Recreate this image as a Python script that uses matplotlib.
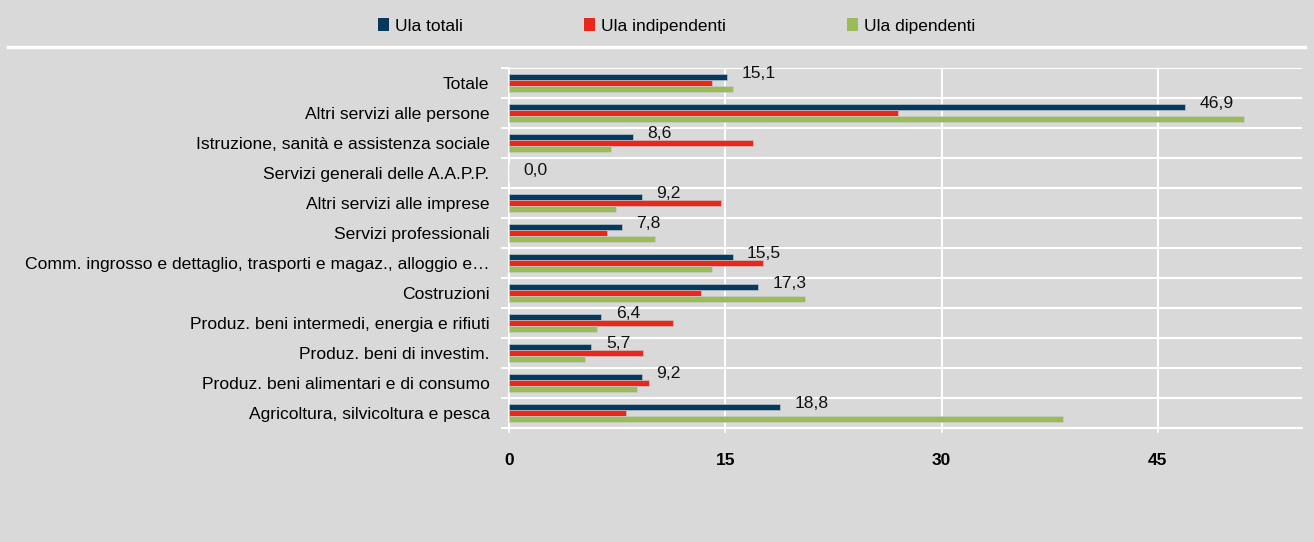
import matplotlib
matplotlib.use('Agg')
import matplotlib.pyplot as plt
import numpy as np
from matplotlib.patches import Patch
from matplotlib.lines import Line2D

plt.rcParams['font.family'] = ['Liberation Sans', 'DejaVu Sans']

categories = [
    'Totale',
    'Altri servizi alle persone',
    'Istruzione, sanità e assistenza sociale',
    'Servizi generali delle A.A.P.P.',
    'Altri servizi alle imprese',
    'Servizi professionali',
    'Comm. ingrosso e dettaglio, trasporti e magaz., alloggio e…',
    'Costruzioni',
    'Produz. beni intermedi, energia e rifiuti',
    'Produz. beni di investim.',
    'Produz. beni alimentari e di consumo',
    'Agricoltura, silvicoltura e pesca',
]
ula_totali = [15.1, 46.9, 8.6, 0.0, 9.2, 7.8, 15.5, 17.3, 6.4, 5.7, 9.2, 18.8]
ula_indipendenti = [14.1, 27.0, 16.9, 0.0, 14.7, 6.8, 17.6, 13.3, 11.4, 9.3, 9.7, 8.1]
ula_dipendenti = [15.5, 51.0, 7.1, 0.0, 7.4, 10.1, 14.1, 20.5, 6.1, 5.3, 8.9, 38.4]

series = [
    ('Ula totali', ula_totali, '#053a5c'),
    ('Ula indipendenti', ula_indipendenti, '#e8281b'),
    ('Ula dipendenti', ula_dipendenti, '#9bbb59'),
]

BG = '#d9d9d9'
fig = plt.figure(figsize=(13.14, 5.42), dpi=100, facecolor=BG)
ax = fig.add_axes([0.3874, 0.2098, 0.6035, 0.6642], facecolor=BG)

y = np.arange(len(categories))
h = 0.2
for i, (name, vals, col) in enumerate(series):
    ax.barh(y + (i - 1) * h, vals, height=h, color=col,
            edgecolor='#c8d0d8', linewidth=0.4, zorder=3)

# labels for the totals only (Excel drops the empty one a bit lower)
for yi, v in zip(y, ula_totali):
    dy = 3 if v > 0 else -2
    ax.annotate(f'{v:.1f}'.replace('.', ','), xy=(v, yi - h), xytext=(10.5, dy),
                textcoords='offset points', ha='left', va='center',
                fontsize=12.6, color='#111111', zorder=4)

ax.set_xlim(0, 55)
ax.set_ylim(len(categories) - 0.5, -0.5)
ax.set_xticks([0, 15, 30, 45])
ax.set_xticklabels(['0', '15', '30', '45'], fontweight='bold', fontsize=12.5)
ax.tick_params(axis='x', direction='inout', length=7, color='white', width=1.2, pad=14)
ax.set_yticks(y)
ax.set_yticklabels(categories, fontsize=12.6)
ax.tick_params(axis='y', length=0, pad=14)
ax.set_yticks(np.arange(len(categories) + 1) - 0.5, minor=True)
ax.tick_params(axis='y', which='minor', length=6, color='white', width=1.5)

for b in np.arange(len(categories) + 1) - 0.5:
    ax.axhline(b, color='white', linewidth=1.5, zorder=1)
for xv in [15, 30, 45]:
    ax.axvline(xv, color='white', linewidth=1.5, zorder=1)

for side in ['top', 'right']:
    ax.spines[side].set_visible(False)
ax.spines['left'].set_color('white')
ax.spines['left'].set_linewidth(1.5)
ax.spines['bottom'].set_color('white')
ax.spines['bottom'].set_linewidth(1.5)

handles = [Patch(facecolor=c, edgecolor='none') for _, _, c in series]
fig.legend(handles, [s[0] for s in series], loc='center', bbox_to_anchor=(0.515, 0.952),
           ncol=3, frameon=False, fontsize=12.5, handlelength=0.6, handleheight=0.8,
           handletextpad=0.35, columnspacing=7.0)
fig.add_artist(Line2D([8 / 1314, 1305 / 1314], [1 - 47 / 542] * 2,
                      transform=fig.transFigure, color='white', linewidth=2.5))

fig.savefig('out.png', dpi=100, facecolor=BG)
